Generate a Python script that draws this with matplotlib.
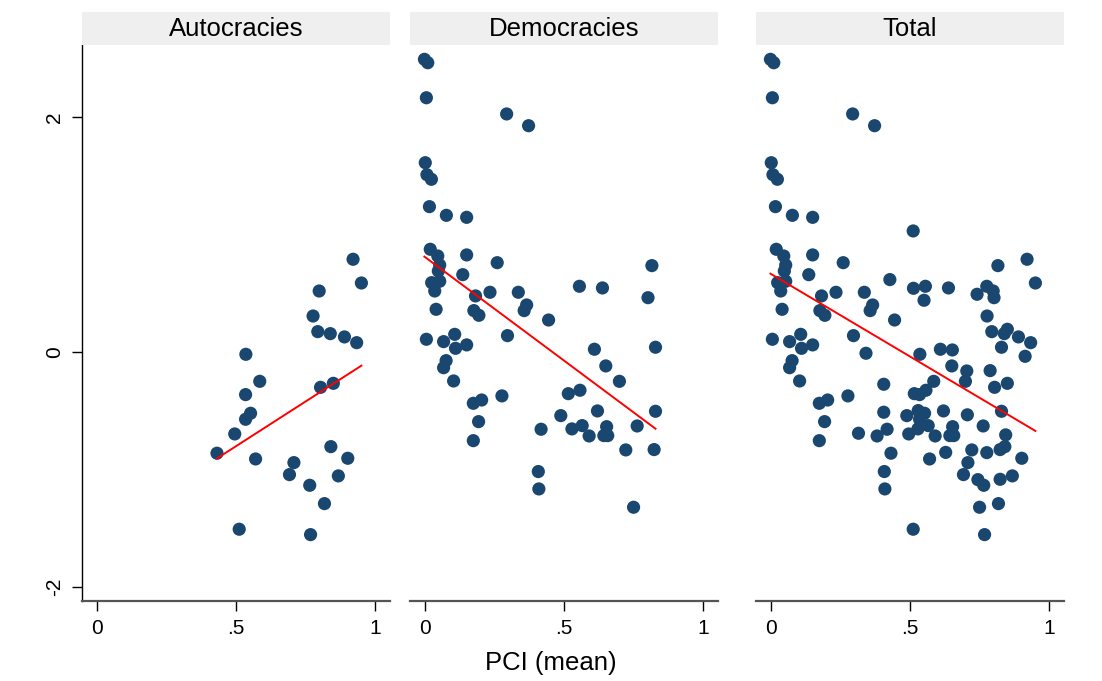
import numpy as np
import matplotlib
matplotlib.use("Agg")
import matplotlib.pyplot as plt

plt.rcParams['font.family'] = ['Liberation Sans', 'DejaVu Sans']

# Autocracies: PCI (mean) vs outcome
auto_x = [0.922, 0.952, 0.800, 0.778, 0.795, 0.840, 0.891, 0.935, 0.536, 0.586,
          0.535, 0.553, 0.535, 0.496, 0.432, 0.571, 0.805, 0.851, 0.842, 0.903,
          0.709, 0.693, 0.869, 0.766, 0.819, 0.512, 0.769]
auto_y = [0.789, 0.587, 0.519, 0.306, 0.173, 0.156, 0.128, 0.079, -0.020, -0.250,
          -0.363, -0.522, -0.573, -0.698, -0.862, -0.911, -0.301, -0.267, -0.806, -0.905,
          -0.942, -1.044, -1.055, -1.135, -1.291, -1.509, -1.555]

# Democracies
demo_x = [-0.002, 0.010, 0.005, 0.294, 0.373, 0.001, 0.007, 0.023, 0.016, 0.077,
          0.150, 0.019, 0.046, 0.150, 0.053, 0.260, 0.048, 0.817, 0.136, 0.024,
          0.053, 0.035, 0.182, 0.234, 0.336, 0.556, 0.639, 0.803, 0.040, 0.176,
          0.194, 0.366, 0.357, 0.445, 0.005, 0.107, 0.067, 0.110, 0.150, 0.297,
          0.076, 0.067, 0.103, 0.830, 0.610, 0.651, 0.700, 0.516, 0.558, 0.174,
          0.204, 0.277, 0.621, 0.830, 0.489, 0.193, 0.418, 0.529, 0.566, 0.654,
          0.764, 0.591, 0.644, 0.658, 0.174, 0.723, 0.825, 0.408, 0.410, 0.751]
demo_y = [2.491, 2.462, 2.164, 2.026, 1.926, 1.611, 1.509, 1.470, 1.237, 1.163,
          1.146, 0.874, 0.817, 0.826, 0.740, 0.760, 0.689, 0.735, 0.658, 0.590,
          0.602, 0.519, 0.477, 0.508, 0.508, 0.559, 0.545, 0.462, 0.363, 0.352,
          0.312, 0.400, 0.352, 0.272, 0.108, 0.150, 0.088, 0.031, 0.060, 0.139,
          -0.074, -0.134, -0.247, 0.040, 0.023, -0.119, -0.250, -0.355, -0.326, -0.437,
          -0.409, -0.374, -0.502, -0.505, -0.542, -0.593, -0.658, -0.655, -0.627, -0.636,
          -0.630, -0.715, -0.712, -0.712, -0.755, -0.834, -0.831, -1.018, -1.166, -1.322]

# Other regimes (only shown in Total)
other_x = [0.512, 0.428, 0.513, 0.742, 0.777, 0.551, 0.851, 0.915, 0.342, 0.653,
           0.705, 0.789, 0.406, 0.315, 0.406, 0.382, 0.530, 0.707, 0.845, 0.777,
           0.629, 0.745, 0.825]
other_y = [1.030, 0.616, 0.542, 0.491, 0.559, 0.440, 0.193, -0.037, -0.011, 0.017,
           -0.162, -0.159, -0.275, -0.692, -0.513, -0.715, -0.499, -0.535, -0.706, -0.857,
           -0.855, -1.087, -1.084]

panels = ["Autocracies", "Democracies", "Total"]
data = {
    "Autocracies": (auto_x, auto_y),
    "Democracies": (demo_x, demo_y),
    "Total": (auto_x + demo_x + other_x, auto_y + demo_y + other_y),
}

W, H = 1102, 681
fig = plt.figure(figsize=(W / 100, H / 100), dpi=100)

lefts = [82, 410, 756]
pw = 308
top, bottom = 45, 601
head_top = 12

navy = '#1a476f'

for i, name in enumerate(panels):
    x = np.array(data[name][0])
    y = np.array(data[name][1])

    ax = fig.add_axes([lefts[i] / W, (H - bottom) / H, pw / W, (bottom - top) / H])
    ax.scatter(x, y, s=90, color=navy, edgecolors='none', zorder=2)

    b, a = np.polyfit(x, y, 1)
    xs = np.array([x.min(), x.max()])
    ax.plot(xs, a + b * xs, color='red', lw=1.4, zorder=3)

    ax.set_xlim(-0.054, 1.055)
    ax.set_ylim(-2.12, 2.613)
    ax.set_xticks([0, 0.5, 1])
    ax.set_xticklabels(['0', '.5', '1'])
    ax.tick_params(axis='x', length=7, width=1, labelsize=15, pad=6, color='black')

    for s in ['top', 'right']:
        ax.spines[s].set_visible(False)
    ax.spines['bottom'].set_color('#555555')
    ax.spines['bottom'].set_linewidth(1.6)

    if i == 0:
        ax.set_yticks([-2, 0, 2])
        ax.set_yticklabels(['-2', '0', '2'], rotation=90, va='center')
        ax.tick_params(axis='y', length=7, width=1, labelsize=15, pad=6)
        ax.spines['left'].set_color('black')
        ax.spines['left'].set_linewidth(1.0)
    else:
        ax.set_yticks([])
        ax.spines['left'].set_visible(False)

    hax = fig.add_axes([lefts[i] / W, (H - top) / H, pw / W, (top - head_top) / H])
    hax.set_facecolor('#efefef')
    hax.set_xticks([])
    hax.set_yticks([])
    for s in hax.spines.values():
        s.set_visible(False)
    hax.text(0.5, 0.5, name, ha='center', va='center', fontsize=18.5, transform=hax.transAxes)

fig.text(0.5, (H - 663) / H, 'PCI (mean)', ha='center', va='center', fontsize=18.5)

fig.savefig('out.png', dpi=100)
